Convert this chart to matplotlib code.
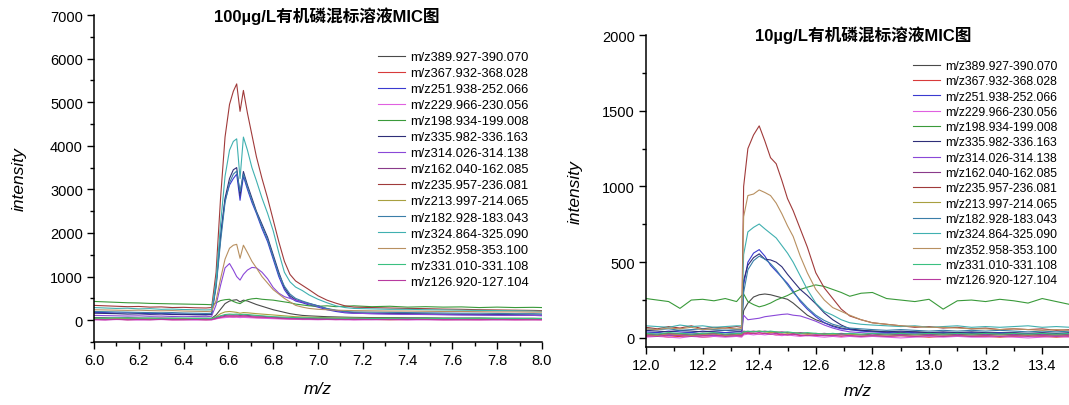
import matplotlib
matplotlib.use("Agg")
import matplotlib.pyplot as plt
from matplotlib.ticker import MultipleLocator

plt.rcParams['font.family'] = ['Liberation Sans', 'Noto Sans CJK SC', 'DejaVu Sans']

labels = ["m/z389.927-390.070", "m/z367.932-368.028", "m/z251.938-252.066",
          "m/z229.966-230.056", "m/z198.934-199.008", "m/z335.982-336.163",
          "m/z314.026-314.138", "m/z162.040-162.085", "m/z235.957-236.081",
          "m/z213.997-214.065", "m/z182.928-183.043", "m/z324.864-325.090",
          "m/z352.958-353.100", "m/z331.010-331.108", "m/z126.920-127.104"]

colors = ["#4a4a4a", "#d83a3a", "#3a3ad0", "#e060e0", "#3a9a3a", "#2e2e78",
          "#8a48d8", "#8a3a8a", "#a03a3a", "#a8a040", "#3a7ea8", "#40b0b0",
          "#b89060", "#3ac080", "#b83aa0"]

# ---- 100 ug/L panel ----
x_left = [6.00, 6.05, 6.10, 6.15, 6.20, 6.25, 6.30, 6.35, 6.40, 6.45, 6.50, 6.525,
          6.545, 6.565, 6.585, 6.605, 6.622, 6.637, 6.652, 6.667, 6.685, 6.705, 6.725, 6.75,
          6.775, 6.80, 6.825, 6.85, 6.875, 6.90, 6.93, 6.96, 7.00, 7.04, 7.08, 7.12,
          7.16, 7.24, 7.32, 7.40, 7.48, 7.56, 7.64, 7.72, 7.80, 7.88, 7.96, 8.00]

l_389 = [60, 55, 50, 55, 50, 45, 50, 45, 40, 45, 40, 45,
         120, 250, 380, 440, 460, 470, 420, 460, 440, 400, 360, 320,
         280, 240, 210, 180, 150, 130, 110, 100, 90, 80, 75, 70,
         65, 60, 60, 55, 55, 50, 50, 50, 45, 45, 45, 40]
l_367 = [20, 15, 25, 10, 20, 15, 20, 10, 15, 20, 10, 15,
         40, 60, 70, 80, 75, 80, 70, 75, 70, 65, 60, 55,
         50, 45, 40, 35, 30, 30, 25, 25, 20, 20, 15, 20,
         15, 20, 10, 15, 20, 10, 15, 10, 20, 10, 15, 10]
l_251 = [180, 175, 165, 170, 160, 150, 155, 145, 140, 135, 130, 140,
         850, 1950, 2750, 3100, 3250, 3350, 2750, 3300, 3000, 2700, 2450, 2100,
         1800, 1400, 1000, 700, 520, 440, 400, 350, 300, 240, 200, 170,
         160, 150, 145, 140, 135, 130, 125, 120, 115, 110, 110, 105]
l_229 = [10, 5, 15, 10, 5, 10, 15, 5, 10, 5, 10, 5,
         30, 50, 60, 70, 65, 70, 60, 65, 60, 55, 50, 45,
         40, 35, 30, 25, 20, 20, 15, 15, 10, 15, 10, 10,
         5, 10, 15, 5, 10, 5, 10, 5, 10, 5, 10, 5]
l_198 = [430, 420, 410, 400, 395, 385, 380, 375, 370, 365, 360, 355,
         400, 450, 470, 480, 430, 400, 380, 430, 470, 490, 500, 480,
         470, 460, 440, 420, 400, 370, 350, 330, 320, 330, 310, 320,
         330, 310, 320, 300, 310, 300, 305, 290, 300, 290, 295, 290]
l_335 = [160, 155, 150, 140, 145, 135, 140, 130, 135, 125, 120, 130,
         800, 1900, 2800, 3250, 3450, 3500, 2860, 3410, 3100, 2800, 2500, 2200,
         1900, 1500, 1100, 750, 560, 470, 420, 380, 330, 260, 220, 190,
         170, 160, 155, 150, 145, 140, 135, 130, 130, 125, 120, 120]
l_314 = [110, 105, 100, 95, 100, 90, 95, 85, 90, 85, 80, 90,
         350, 800, 1200, 1300, 1150, 1000, 920, 1050, 1150, 1210, 1200, 1100,
         950, 750, 620, 540, 500, 460, 420, 380, 320, 260, 220, 180,
         160, 150, 140, 135, 130, 125, 120, 120, 115, 110, 110, 105]
l_162 = [30, 25, 35, 30, 25, 30, 35, 25, 30, 25, 30, 25,
         60, 90, 110, 120, 115, 120, 110, 115, 110, 100, 95, 90,
         80, 70, 60, 55, 50, 45, 40, 40, 35, 35, 30, 30,
         30, 25, 30, 25, 30, 25, 30, 25, 25, 30, 25, 25]
l_235 = [340, 330, 320, 310, 315, 300, 305, 290, 295, 285, 280, 290,
         1100, 2800, 4200, 4950, 5250, 5420, 4790, 5270, 4750, 4250, 3750, 3250,
         2800, 2300, 1800, 1350, 1050, 900, 800, 700, 560, 460, 390, 330,
         300, 290, 280, 270, 265, 255, 250, 240, 235, 230, 225, 220]
l_213 = [40, 35, 40, 35, 30, 35, 30, 35, 30, 30, 25, 30,
         80, 150, 190, 200, 190, 180, 160, 175, 170, 160, 150, 140,
         130, 120, 110, 100, 90, 80, 75, 70, 65, 60, 55, 50,
         50, 45, 45, 40, 40, 40, 35, 35, 35, 30, 30, 30]
l_182 = [200, 195, 190, 185, 180, 175, 170, 175, 165, 160, 155, 160,
         750, 1800, 2700, 3150, 3350, 3420, 2950, 3350, 3050, 2750, 2480, 2150,
         1850, 1450, 1050, 780, 600, 500, 440, 390, 330, 270, 230, 200,
         190, 185, 180, 175, 170, 165, 160, 160, 155, 150, 150, 145]
l_324 = [290, 280, 270, 275, 260, 265, 250, 255, 245, 240, 235, 240,
         900, 2200, 3300, 3900, 4100, 4160, 3250, 4200, 3900, 3500, 3200, 2800,
         2450, 2050, 1550, 1100, 880, 760, 680, 580, 480, 400, 330, 290,
         270, 260, 250, 250, 240, 235, 230, 225, 220, 215, 210, 205]
l_352 = [240, 235, 230, 225, 230, 220, 215, 220, 210, 205, 200, 205,
         450, 950, 1400, 1650, 1720, 1740, 1420, 1720, 1550, 1350, 1200, 1000,
         850, 700, 600, 500, 420, 340, 300, 270, 250, 240, 230, 225,
         220, 215, 210, 210, 205, 200, 200, 195, 190, 190, 185, 185]
l_331 = [50, 45, 55, 50, 45, 50, 40, 45, 50, 40, 45, 40,
         70, 100, 130, 140, 135, 140, 130, 135, 130, 120, 110, 100,
         90, 80, 75, 70, 65, 60, 55, 55, 50, 50, 45, 45,
         45, 40, 45, 40, 45, 40, 40, 45, 40, 40, 35, 40]
l_126 = [15, 10, 20, 10, 15, 10, 20, 15, 10, 15, 10, 15,
         40, 70, 90, 100, 95, 100, 90, 95, 90, 80, 75, 70,
         60, 55, 45, 40, 35, 30, 25, 25, 20, 20, 20, 15,
         20, 15, 15, 20, 15, 15, 10, 15, 10, 15, 10, 15]

# ---- 10 ug/L panel ----
x_right = [12.00, 12.04, 12.08, 12.12, 12.16, 12.20, 12.24, 12.28, 12.32, 12.338, 12.345, 12.36,
           12.38, 12.40, 12.42, 12.44, 12.46, 12.48, 12.50, 12.52, 12.545, 12.57, 12.60, 12.63,
           12.66, 12.69, 12.72, 12.76, 12.80, 12.85, 12.90, 12.95, 13.00, 13.05, 13.10, 13.15,
           13.20, 13.25, 13.30, 13.35, 13.40, 13.45, 13.50]

r_389 = [30, 35, 25, 30, 35, 25, 30, 35, 30, 30, 180, 230,
         270, 285, 290, 285, 275, 265, 255, 230, 190, 150, 120, 100,
         80, 65, 55, 50, 45, 40, 35, 40, 35, 30, 35, 30,
         30, 35, 30, 25, 30, 25, 30]
r_367 = [10, 15, 5, 10, 15, 5, 10, 15, 10, 10, 25, 30,
         30, 25, 30, 25, 20, 25, 20, 25, 15, 20, 15, 20,
         15, 10, 15, 10, 15, 10, 15, 10, 5, 10, 15, 10,
         10, 5, 10, 15, 10, 5, 10]
r_251 = [40, 35, 45, 40, 35, 45, 40, 35, 40, 40, 350, 500,
         560, 583, 540, 480, 440, 400, 360, 310, 240, 190, 140, 100,
         75, 60, 55, 45, 40, 35, 40, 35, 30, 35, 30, 35,
         30, 35, 30, 25, 30, 25, 30]
r_229 = [5, 10, 5, 0, 10, 5, 10, 5, 10, 5, 20, 25,
         20, 25, 20, 25, 20, 15, 20, 15, 10, 15, 10, 5,
         10, 5, 10, 5, 10, 5, 0, 5, 10, 5, 10, 5,
         5, 10, 5, 0, 5, 10, 5]
r_198 = [260, 250, 240, 195, 250, 255, 245, 260, 240, 280, 290, 240,
         220, 205, 215, 230, 250, 265, 280, 300, 320, 335, 350, 340,
         320, 300, 275, 295, 300, 260, 250, 240, 255, 190, 245, 250,
         240, 255, 245, 230, 260, 240, 220]
r_335 = [50, 45, 40, 50, 45, 40, 45, 50, 45, 45, 380, 480,
         530, 555, 520, 515, 500, 470, 420, 375, 320, 280, 225, 165,
         120, 85, 60, 50, 45, 40, 45, 40, 35, 40, 35, 40,
         35, 30, 35, 30, 35, 30, 35]
r_314 = [20, 25, 15, 20, 25, 20, 15, 20, 25, 20, 150, 120,
         125, 130, 140, 145, 150, 155, 158, 150, 145, 130, 110, 85,
         65, 50, 40, 35, 30, 30, 25, 30, 25, 20, 25, 20,
         20, 25, 20, 25, 20, 15, 20]
r_162 = [25, 20, 30, 25, 20, 25, 30, 20, 25, 25, 45, 40,
         45, 40, 45, 40, 35, 40, 35, 30, 35, 30, 25, 30,
         25, 30, 25, 20, 25, 20, 25, 20, 25, 20, 25, 20,
         25, 20, 25, 20, 25, 20, 25]
r_235 = [70, 60, 75, 65, 80, 60, 70, 65, 75, 70, 1000, 1250,
         1340, 1400, 1300, 1190, 1150, 1040, 920, 840, 720, 600, 430, 330,
         260, 190, 145, 120, 100, 90, 80, 70, 75, 65, 70, 60,
         65, 55, 60, 55, 60, 50, 55]
r_213 = [20, 15, 25, 20, 15, 20, 25, 15, 20, 20, 35, 40,
         40, 45, 40, 35, 40, 35, 30, 35, 30, 25, 30, 25,
         25, 20, 25, 20, 15, 20, 15, 20, 15, 20, 15, 20,
         15, 20, 15, 20, 15, 20, 15]
r_182 = [60, 55, 60, 50, 55, 60, 55, 50, 55, 55, 300, 450,
         510, 540, 520, 490, 450, 400, 350, 300, 250, 200, 150, 115,
         90, 75, 65, 60, 55, 50, 55, 50, 45, 50, 45, 50,
         45, 50, 45, 40, 45, 40, 45]
r_324 = [80, 75, 70, 85, 75, 80, 70, 75, 80, 80, 550, 700,
         730, 752, 720, 690, 660, 610, 560, 500, 410, 320, 230, 175,
         150, 120, 100, 90, 85, 80, 75, 80, 70, 75, 80, 70,
         75, 70, 75, 80, 70, 75, 70]
r_352 = [60, 55, 65, 60, 70, 55, 60, 65, 60, 60, 800, 940,
         950, 977, 960, 940, 890, 820, 740, 670, 540, 430, 320, 250,
         200, 175, 150, 120, 100, 90, 80, 75, 70, 70, 65, 60,
         60, 55, 60, 55, 50, 55, 50]
r_331 = [30, 25, 35, 30, 25, 30, 35, 25, 30, 30, 40, 45,
         40, 45, 40, 45, 40, 35, 40, 35, 30, 35, 30, 25,
         30, 25, 30, 25, 30, 25, 30, 25, 30, 25, 30, 25,
         30, 25, 30, 25, 30, 25, 30]
r_126 = [15, 10, 20, 15, 10, 15, 20, 10, 15, 15, 30, 35,
         30, 35, 30, 25, 30, 25, 20, 25, 20, 15, 20, 15,
         15, 20, 15, 10, 15, 10, 15, 10, 15, 10, 15, 10,
         15, 10, 15, 10, 15, 10, 15]

left_series = [l_389, l_367, l_251, l_229, l_198, l_335, l_314, l_162,
               l_235, l_213, l_182, l_324, l_352, l_331, l_126]
right_series = [r_389, r_367, r_251, r_229, r_198, r_335, r_314, r_162,
                r_235, r_213, r_182, r_324, r_352, r_331, r_126]

fig = plt.figure(figsize=(10.69, 4.06), dpi=100)
W, H = 1069, 406
ax1 = fig.add_axes([94 / W, 1 - 343 / H, 448 / W, 327 / H])
ax2 = fig.add_axes([646 / W, 1 - 348 / H, 424.5 / W, 312 / H])


def style(ax, xmaj, ymaj, ymin):
    for s in ["top", "right"]:
        ax.spines[s].set_visible(False)
    for s in ["left", "bottom"]:
        ax.spines[s].set_linewidth(1.1)
    ax.xaxis.set_major_locator(MultipleLocator(xmaj))
    ax.xaxis.set_minor_locator(MultipleLocator(xmaj / 2))
    ax.yaxis.set_major_locator(MultipleLocator(ymaj))
    ax.yaxis.set_minor_locator(MultipleLocator(ymin))
    ax.tick_params(which="major", direction="out", length=5, width=1, labelsize=10.5, pad=3)
    ax.tick_params(which="minor", direction="out", length=3, width=1)
    ax.set_xlabel("m/z", style="italic", fontsize=12.5)
    ax.set_ylabel("intensity", style="italic", fontsize=12.5)


for vals, c, lab in zip(left_series, colors, labels):
    ax1.plot(x_left, vals, color=c, lw=0.8, label=lab)
ax1.set_xlim(6.0, 8.0)
ax1.set_ylim(-500, 7000)
style(ax1, 0.2, 1000, 500)
ax1.xaxis.set_major_formatter(lambda v, p: f"{v:.1f}")
ax1.yaxis.set_label_coords(-0.15, 0.5)
ax1.xaxis.set_label_coords(0.5, -0.12)

for vals, c, lab in zip(right_series, colors, labels):
    ax2.plot(x_right, vals, color=c, lw=0.8, label=lab)
ax2.set_xlim(12.0, 13.5)
ax2.set_ylim(-60, 2000)
style(ax2, 0.2, 500, 250)
ax2.xaxis.set_major_formatter(lambda v, p: f"{v:.1f}")
ax2.yaxis.set_label_coords(-0.148, 0.5)
ax2.xaxis.set_label_coords(0.5, -0.115)

fig.text(327 / W, 1 - 16 / H, "100µg/L有机磷混标溶液MIC图", ha="center", va="center",
         fontsize=12, fontweight="bold")
fig.text(863 / W, 1 - 35 / H, "10µg/L有机磷混标溶液MIC图", ha="center", va="center",
         fontsize=12, fontweight="bold")

ax1.legend(loc="upper left", bbox_to_anchor=(378 / W, 1 - 52 / H),
           bbox_transform=fig.transFigure, frameon=False, fontsize=9.3,
           borderpad=0, borderaxespad=0, handlelength=2.1, handletextpad=0.4,
           labelspacing=0.31)
ax2.legend(loc="upper left", bbox_to_anchor=(913 / W, 1 - 61 / H),
           bbox_transform=fig.transFigure, frameon=False, fontsize=8.8,
           borderpad=0, borderaxespad=0, handlelength=2.2, handletextpad=0.4,
           labelspacing=0.27)

fig.savefig("out.png", dpi=100)
